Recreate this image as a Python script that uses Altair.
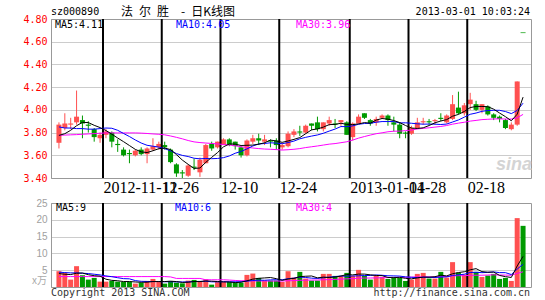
import altair as alt
import pandas as pd

# ---------------- data ----------------
opens = [3.71,3.84,3.87,3.89,3.91,3.87,3.83,3.75,3.78,3.80,
         3.70,3.65,3.62,3.60,3.65,3.61,3.65,3.67,3.69,3.65,
         3.52,3.45,3.42,3.50,3.45,3.53,3.70,3.67,3.69,3.74,
         3.72,3.67,3.60,3.72,3.75,3.72,3.73,3.73,3.67,3.68,
         3.78,3.81,3.80,3.88,3.89,3.83,3.88,3.88,3.89,3.89,
         3.76,3.88,3.97,3.91,3.89,3.93,3.95,3.89,3.87,3.80,
         3.79,3.84,3.89,3.90,3.90,3.93,3.89,3.92,4.02,3.97,
         4.05,4.05,4.00,4.03,3.96,3.94,3.91,3.83,3.87,4.68]
highs = [3.89,3.97,3.93,4.17,3.95,3.90,3.84,3.80,3.83,3.81,
         3.74,3.67,3.65,3.65,3.67,3.67,3.75,3.72,3.72,3.66,
         3.53,3.47,3.52,3.57,3.58,3.70,3.72,3.72,3.75,3.75,
         3.72,3.68,3.74,3.78,3.79,3.78,3.74,3.75,3.71,3.81,
         3.83,3.86,3.87,3.88,3.94,3.89,3.94,3.92,3.91,3.90,
         3.89,3.96,3.97,3.92,3.94,3.96,3.96,3.94,3.89,3.81,
         3.86,3.93,3.93,3.92,3.92,3.97,3.96,4.13,4.16,4.06,
         4.15,4.08,4.05,4.04,3.97,3.95,3.92,3.89,4.25,4.68]
lows = [3.66,3.82,3.83,3.87,3.75,3.80,3.72,3.71,3.75,3.67,
        3.63,3.59,3.53,3.59,3.60,3.53,3.64,3.65,3.65,3.53,
        3.41,3.40,3.41,3.47,3.41,3.53,3.64,3.66,3.69,3.68,
        3.65,3.58,3.59,3.70,3.69,3.69,3.67,3.65,3.65,3.67,
        3.76,3.77,3.79,3.82,3.81,3.81,3.86,3.84,3.86,3.78,
        3.73,3.88,3.92,3.86,3.86,3.92,3.86,3.81,3.75,3.75,
        3.78,3.83,3.87,3.87,3.87,3.90,3.88,3.91,3.96,3.95,
        4.00,3.99,3.97,3.95,3.91,3.89,3.83,3.82,3.86,4.68]
closes = [3.87,3.88,3.88,3.94,3.88,3.86,3.76,3.78,3.81,3.72,
          3.69,3.60,3.61,3.64,3.61,3.66,3.68,3.70,3.67,3.54,
          3.44,3.44,3.51,3.49,3.56,3.69,3.66,3.72,3.74,3.69,
          3.68,3.60,3.73,3.75,3.73,3.74,3.72,3.69,3.69,3.79,
          3.81,3.80,3.86,3.86,3.83,3.89,3.91,3.87,3.91,3.78,
          3.88,3.94,3.93,3.88,3.92,3.95,3.91,3.87,3.79,3.79,
          3.84,3.89,3.90,3.89,3.91,3.92,3.95,4.05,3.97,4.04,
          4.09,4.00,4.05,3.96,3.93,3.92,3.84,3.87,4.25,4.68]
ma5 = [3.775,3.79,3.82,3.86,3.890,3.888,3.864,3.844,3.818,3.786,
       3.752,3.720,3.686,3.652,3.630,3.624,3.640,3.658,3.664,3.650,
       3.606,3.558,3.520,3.484,3.488,3.538,3.582,3.624,3.674,3.700,
       3.698,3.686,3.688,3.690,3.698,3.710,3.734,3.726,3.714,3.726,
       3.740,3.756,3.790,3.824,3.832,3.848,3.870,3.872,3.882,3.872,
       3.870,3.876,3.888,3.882,3.910,3.924,3.918,3.906,3.888,3.862,
       3.840,3.836,3.842,3.862,3.886,3.902,3.914,3.944,3.960,3.986,
       4.020,4.030,4.030,4.028,4.006,3.972,3.940,3.904,3.962,4.112]
ma10 = [3.85,3.84,3.84,3.835,3.835,3.83,3.83,3.835,3.84,3.838,
        3.820,3.792,3.765,3.735,3.708,3.688,3.680,3.672,3.658,3.640,
        3.615,3.599,3.589,3.574,3.569,3.572,3.570,3.572,3.579,3.594,
        3.618,3.634,3.656,3.682,3.699,3.704,3.710,3.707,3.702,3.712,
        3.725,3.745,3.758,3.769,3.779,3.794,3.813,3.831,3.853,3.852,
        3.859,3.873,3.880,3.882,3.891,3.897,3.897,3.897,3.885,3.886,
        3.882,3.877,3.874,3.875,3.874,3.871,3.875,3.893,3.911,3.936,
        3.961,3.972,3.987,3.994,3.996,3.996,3.985,3.967,3.995,4.059]
ma30 = [3.776,3.778,3.780,3.782,3.785,3.788,3.791,3.794,3.797,3.797,
        3.797,3.797,3.797,3.797,3.795,3.792,3.788,3.785,3.780,3.770,
        3.758,3.745,3.730,3.718,3.712,3.708,3.704,3.700,3.695,3.691,
        3.684,3.675,3.670,3.664,3.659,3.655,3.653,3.650,3.646,3.649,
        3.653,3.659,3.668,3.675,3.682,3.690,3.698,3.703,3.711,3.719,
        3.734,3.751,3.765,3.778,3.790,3.798,3.807,3.812,3.813,3.817,
        3.822,3.832,3.837,3.842,3.848,3.854,3.862,3.874,3.883,3.891,
        3.901,3.907,3.914,3.917,3.920,3.921,3.919,3.919,3.930,3.960]

volumes = [4.7,4.2,2.2,6.2,3.5,2.2,2.7,1.6,1.6,1.8,
           1.6,1.5,1.6,1.0,1.3,1.8,2.4,1.6,1.0,1.8,
           1.3,1.1,1.9,2.1,1.6,2.3,0.7,1.5,1.5,1.5,
           1.3,1.3,3.6,4.0,2.7,1.9,1.9,1.9,1.5,4.7,
           2.8,4.5,2.5,1.9,1.9,3.9,3.9,3.3,3.3,4.2,
           3.3,5.1,3.3,2.2,3.3,3.0,2.4,3.0,2.7,1.8,
           2.2,3.9,4.2,2.5,2.5,4.5,2.8,7.4,4.3,3.7,
           7.4,4.5,3.0,3.4,3.9,2.4,2.7,1.8,20.5,18.2]
vma5 = [4.0,3.8,3.7,4.1,4.16,3.66,3.36,3.24,2.32,1.98,
        1.86,1.62,1.62,1.5,1.4,1.44,1.62,1.62,1.62,1.72,
        1.62,1.36,1.42,1.64,1.6,1.8,1.72,1.64,1.52,1.5,
        1.3,1.42,1.84,2.34,2.58,2.7,2.82,2.48,1.98,2.38,
        2.56,3.08,3.2,3.28,2.72,2.94,2.82,2.98,3.26,3.72,
        3.6,3.84,3.84,3.62,3.44,3.38,2.84,2.78,2.88,2.58,
        2.42,2.72,2.96,2.92,3.06,3.52,3.3,3.94,4.3,4.54,
        5.12,5.46,4.58,4.4,4.44,3.44,3.08,2.84,6.26,9.12]
vma10 = [4.4,4.3,4.2,4.2,4.1,4.0,3.8,3.6,3.3,3.07,
         2.76,2.49,2.43,1.91,1.69,1.65,1.62,1.62,1.56,1.56,
         1.53,1.49,1.52,1.63,1.66,1.71,1.54,1.53,1.58,1.55,
         1.55,1.57,1.74,1.93,2.04,2.0,2.12,2.16,2.16,2.48,
         2.63,2.95,2.84,2.63,2.55,2.75,2.95,3.09,3.27,3.22,
         3.27,3.33,3.41,3.44,3.58,3.49,3.34,3.31,3.25,3.01,
         2.9,2.78,2.87,2.9,2.82,2.97,3.01,3.45,3.61,3.8,
         4.32,4.38,4.26,4.35,4.49,4.28,4.27,3.71,5.33,6.78]
vma30 = [3.1,3.1,3.1,3.1,3.1,3.1,3.1,3.1,3.1,3.1,
         3.1,3.1,3.1,3.1,3.1,3.1,3.1,3.1,3.1,3.0,
         2.55,2.55,2.55,2.55,2.55,2.15,2.15,2.15,2.15,2.06,
         1.95,1.85,1.90,1.82,1.80,1.79,1.76,1.77,1.77,1.86,
         1.90,2.0,2.03,2.06,2.08,2.15,2.2,2.26,2.34,2.42,
         2.48,2.62,2.66,2.67,2.72,2.75,2.80,2.85,2.89,2.90,
         2.93,3.02,3.04,2.99,2.98,3.07,3.1,3.28,3.38,3.34,
         3.50,3.50,3.51,3.56,3.63,3.58,3.54,3.49,4.06,4.53]

sep_days = [8, 18, 28, 38, 50, 60, 70]
sep_labels = ["2012-11-12", "11-26", "12-10", "12-24", "2013-01-14", "01-28", "02-18"]
price_ticks = [3.4, 3.6, 3.8, 4.0, 4.2, 4.4, 4.6, 4.8]
vol_ticks = [0, 5, 10, 15, 20, 25]

# ---------------- build ----------------
n = len(closes)
df = pd.DataFrame({
    "day": list(range(n)), "open": opens, "high": highs, "low": lows,
    "close": closes, "ma5": ma5, "ma10": ma10, "ma30": ma30,
    "volume": volumes, "vma5": vma5, "vma10": vma10, "vma30": vma30,
})
df["xc"] = df["day"] + 0.5
sep_df = pd.DataFrame({"xc": sep_days, "label": sep_labels})
one = pd.DataFrame({"k": [0]})

RED = "#FF5050"
GREEN = "#009A00"
MONO = "DejaVu Sans Mono"
updown = alt.condition("datum.close > datum.open", alt.value(RED), alt.value(GREEN))

x_label_expr = " : ".join(
    f"datum.value == {d} ? '{l}'" for d, l in zip(sep_days, sep_labels)
) + " : ''"

xs = alt.Scale(domain=[0, n], nice=False, zero=False)
x_price = alt.X("xc:Q", scale=xs, title=None, axis=alt.Axis(
    values=sep_days, labelExpr=x_label_expr, labelAlign="left",
    labelBaseline="top", labelPadding=1, labelFont="Liberation Serif",
    labelFontSize=16, labelColor="#000000", labelOverlap=False,
    labelBound=False, labelFlush=False, ticks=False, domain=False,
    grid=False))
x_vol = alt.X("xc:Q", scale=xs, title=None, axis=None)

ps = alt.Scale(domain=[3.4, 4.8], nice=False, zero=False)
price_axis = alt.Axis(values=price_ticks, format=".2f", labelColor="#FF0000",
                      labelFont=MONO, labelFontSize=10, labelPadding=4,
                      ticks=False, domain=False, grid=True, gridColor="#999999",
                      gridDash=[1, 1], gridOpacity=1)
vs = alt.Scale(domain=[0, 25], nice=False)
vol_axis = alt.Axis(values=vol_ticks, labelExpr="datum.value == 0 ? '' : datum.label",
                    labelColor="#A0A0A0", labelFont="Liberation Sans",
                    labelFontSize=10, labelPadding=4, ticks=False, domain=False,
                    grid=True, gridColor="#999999", gridDash=[1, 1], gridOpacity=1)


def yp(field):
    return alt.Y(f"{field}:Q", scale=ps, axis=price_axis, title=None)


def yv(field):
    return alt.Y(f"{field}:Q", scale=vs, axis=vol_axis, title=None)


def label(text, x, y, color, size=10, font=MONO, align="left", **kw):
    return alt.Chart(one).mark_text(
        text=text, align=align, baseline="middle", font=font,
        fontSize=size, color=color, **kw
    ).encode(x=alt.value(x), y=alt.value(y))


base = alt.Chart(df)

bound_fix = alt.Chart(one).mark_rule(opacity=0, color="#ffffff").encode(
    x=alt.value(-50), x2=alt.value(-49), y=alt.value(-18), y2=alt.value(-17))

watermark = label("sina", 445, 146, "#D4D4D4", size=18, font="Liberation Sans",
                  fontWeight="bold", fontStyle="italic")

sep_price = alt.Chart(sep_df).mark_rule(color="#000000", strokeWidth=2).encode(x=x_price)
sep_vol = alt.Chart(sep_df).mark_rule(color="#000000", strokeWidth=2).encode(x=x_vol)

wicks = base.mark_rule(strokeWidth=1).encode(
    x=x_price, y=yp("low"), y2=alt.Y2("high"), color=updown)
bodies = base.mark_bar(size=5).encode(
    x=x_price, y=yp("open"), y2=alt.Y2("close"), color=updown)
flat = base.transform_filter("datum.open == datum.close").mark_tick(
    orient="horizontal", size=5, thickness=1).encode(
    x=x_price, y=yp("close"), color=updown)
l30 = base.mark_line(color="#FF00FF", strokeWidth=1).encode(x=x_price, y=yp("ma30"))
l10 = base.mark_line(color="#0000FF", strokeWidth=1).encode(x=x_price, y=yp("ma10"))
l5 = base.mark_line(color="#000000", strokeWidth=1).encode(x=x_price, y=yp("ma5"))

price = alt.layer(
    bound_fix, watermark, wicks, bodies, flat, sep_price, l30, l10, l5,
    label("sz000890", 0, -7, "#000000"),
    label("法\u2002尔\u2002胜\u2002\u2002-\u2002日K线图", 70, -7, "#000000",
          size=12, font="Noto Sans CJK SC"),
    label("2013-03-01 10:03:24", 479, -7, "#000000", align="right"),
    label("MA5:4.11", 4, 6, "#000000"),
    label("MA10:4.05", 125, 6, "#0000FF"),
    label("MA30:3.96", 245, 6, "#FF00FF"),
).properties(width=480, height=159)

vbars = base.mark_bar(size=5).encode(x=x_vol, y=yv("volume"), color=updown)
v30 = base.mark_line(color="#FF00FF", strokeWidth=1).encode(x=x_vol, y=yv("vma30"))
v10 = base.mark_line(color="#0000FF", strokeWidth=1).encode(x=x_vol, y=yv("vma10"))
v5 = base.mark_line(color="#000000", strokeWidth=1).encode(x=x_vol, y=yv("vma5"))

volume = alt.layer(
    vbars, sep_vol, v30, v10, v5,
    label("MA5:9", 5, 4.5, "#000000"),
    label("MA10:6", 124, 4.5, "#0000FF"),
    label("MA30:4", 245, 4.5, "#FF00FF"),
    label("x万", -4, 77.5, "#AAAAAA", size=10, font="Noto Sans CJK SC", align="right"),
    label("Copyright 2013 SINA.COM", 0, 90, "#333333"),
    label("http://finance.sina.com.cn", 479, 90, "#333333", align="right"),
).properties(width=480, height=84)

chart = alt.vconcat(price, volume, spacing=25, bounds="flush").properties(
    padding=0, background="white"
).configure_view(stroke="#999999", strokeWidth=1, fill="white")

chart.save("out.html", embed_options={"renderer": "svg", "actions": False})
